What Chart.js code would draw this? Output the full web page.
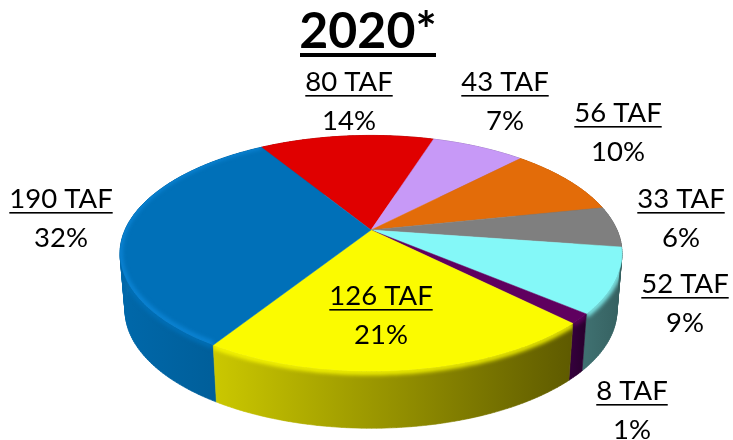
<!DOCTYPE html>
<html>
<head>
<meta charset="utf-8">
<title>2020*</title>
<script src="https://cdn.jsdelivr.net/npm/chart.js@4"></script>
<style>
  html, body { margin: 0; padding: 0; background: #fff; }
  canvas { display: block; }
</style>
</head>
<body>
<canvas id="pie" width="733" height="440"></canvas>
<script>
'use strict';

// ************************* DATA **********************************
const chartTitle = '2020*';
const tafValues = [80, 43, 56, 33, 52, 8, 126, 190];
const percentLabels = ['14%', '7%', '10%', '6%', '9%', '1%', '21%', '32%'];
const sliceColors = ['#e00000', '#c799f7', '#e36c09', '#7f7f7f', '#84f8f8', '#5f005f', '#fbfb00', '#0070b8'];
const wallLeftColors = ['#800000', '#70558c', '#a04c06', '#6a6a6a', '#3f7070', '#33003a', '#cbc800', '#0068aa'];
const wallRightColors = ['#800000', '#70558c', '#a04c06', '#555555', '#356060', '#28002c', '#5e5a00', '#005a92'];
const labelSpots = [[349, 91], [505, 91], [618, 122], [681, 208], [685, 293], [632, 400], [381, 305], [61, 208]];

// ************************ PIE SHAPE ********************************
const apexX = 371;
const apexY = 230;
const tilt = 0.198;      // how much nearer the front edge looks
const scaleX = 246;
const scaleY = 113.3;
const wallDepth = 57;
const wallTaper = 0.98;  // the bottom ring is a bit narrower than the top
const labelFont = '27.5px Lato';

const project = (angle) => {
  const x = Math.cos(angle);
  const y = Math.sin(angle);
  const w = 1 - tilt * y;
  return { x: apexX + scaleX * x / w, y: apexY + scaleY * y / w };
};

const rimPoints = (arc) => {
  const points = [];
  const steps = Math.max(4, Math.ceil((arc.endAngle - arc.startAngle) * 60));
  for (let i = 0; i <= steps; i++) {
    points.push(project(arc.startAngle + (arc.endAngle - arc.startAngle) * i / steps));
  }
  return points;
};

// lineTo on an empty path acts as moveTo, so this also joins onto an open path
const traceLine = (ctx, points, dy = 0) => {
  points.forEach(p => ctx.lineTo(p.x, p.y + dy));
};

const bottomPoints = (points) => {
  return points.map(p => ({ x: apexX + (p.x - apexX) * wallTaper, y: p.y + wallDepth }));
};

function drawWall(ctx, arc, i) {
  const points = rimPoints(arc);
  const lower = bottomPoints(points);
  const xs = points.map(p => p.x);
  const gradient = ctx.createLinearGradient(Math.min(...xs), 0, Math.max(...xs), 0);
  gradient.addColorStop(0, wallLeftColors[i]);
  gradient.addColorStop(1, wallRightColors[i]);

  // one small quad per step, so the sides stay whole where the ring turns back
  const wallPath = new Path2D();
  for (let k = 0; k < points.length - 1; k++) {
    wallPath.moveTo(points[k].x, points[k].y);
    wallPath.lineTo(points[k + 1].x, points[k + 1].y);
    wallPath.lineTo(lower[k + 1].x, lower[k + 1].y);
    wallPath.lineTo(lower[k].x, lower[k].y);
    wallPath.closePath();
  }
  ctx.fillStyle = gradient;
  ctx.strokeStyle = gradient;
  ctx.lineWidth = 0.6;
  ctx.stroke(wallPath);
  ctx.fill(wallPath);

  // soft bevel where the wall meets the top
  ctx.save();
  ctx.clip(wallPath);
  ctx.filter = 'blur(2px)';
  ctx.beginPath();
  traceLine(ctx, points, 1);
  ctx.strokeStyle = sliceColors[i];
  ctx.lineWidth = 5;
  ctx.stroke();
  ctx.restore();
}

function drawTop(ctx, arc, i) {
  const points = rimPoints(arc);
  ctx.beginPath();
  ctx.moveTo(apexX, apexY);
  traceLine(ctx, points);
  ctx.closePath();
  ctx.fillStyle = sliceColors[i];
  ctx.fill();
  ctx.strokeStyle = sliceColors[i];
  ctx.lineWidth = 0.5;
  ctx.stroke();

  // the blue slice has a lighter edge on its rim
  if (i === sliceColors.length - 1) {
    ctx.save();
    ctx.clip();
    ctx.filter = 'blur(2px)';
    ctx.beginPath();
    traceLine(ctx, points, -1);
    ctx.strokeStyle = '#0c85d6';
    ctx.lineWidth = 5;
    ctx.stroke();
    ctx.restore();
  }
}

const pie3d = {
  id: 'pie3d',
  beforeDatasetDraw(chart) {
    const ctx = chart.ctx;
    const arcs = chart.getDatasetMeta(0).data;
    // back to front so that nearer walls lie over farther ones
    const order = arcs.map((arc, i) => i).sort((a, b) => {
      return project((arcs[a].startAngle + arcs[a].endAngle) / 2).y - project((arcs[b].startAngle + arcs[b].endAngle) / 2).y;
    });
    order.forEach(i => drawWall(ctx, arcs[i], i));
    arcs.forEach((arc, i) => drawTop(ctx, arc, i));
    return false;
  },
  afterDraw(chart) {
    const ctx = chart.ctx;
    ctx.save();
    ctx.fillStyle = '#000';
    ctx.textAlign = 'center';
    ctx.textBaseline = 'alphabetic';

    ctx.font = 'bold 50px Lato';
    ctx.fillText(chartTitle, 368, 48);
    ctx.fillRect(300, 53, 136, 4);

    ctx.font = labelFont;
    tafValues.forEach((value, i) => {
      const [x, y] = labelSpots[i];
      const text = value + ' TAF';
      const width = ctx.measureText(text).width;
      ctx.fillText(text, x, y);
      ctx.fillRect(x - width / 2, y + 4, width, 1.6);
      ctx.fillText(percentLabels[i], x, y + 39);
    });
    ctx.restore();
  }
};

new Chart(document.getElementById('pie'), {
  type: 'pie',
  data: {
    labels: tafValues.map(value => value + ' TAF'),
    datasets: [{ data: tafValues, backgroundColor: sliceColors }]
  },
  options: {
    responsive: false,
    animation: false,
    rotation: 328.6,
    plugins: { legend: { display: false }, tooltip: { enabled: false } }
  },
  plugins: [pie3d]
});
</script>
</body>
</html>
